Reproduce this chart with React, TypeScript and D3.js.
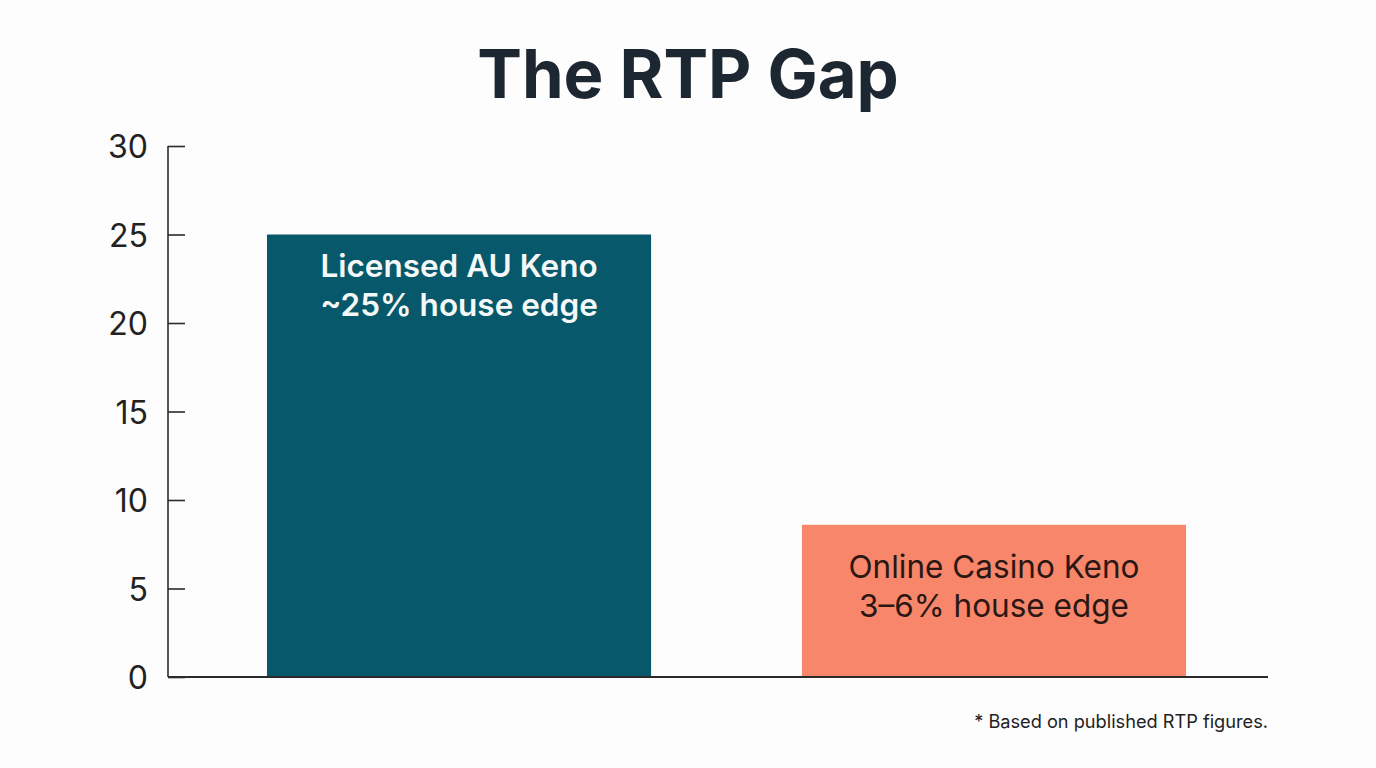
import { useEffect, useRef } from "react";
import * as d3 from "d3";

const categories = ["Licensed AU Keno", "Online Casino Keno"];
const houseEdge = [25, 8.6];
const barLabels = [
  ["Licensed AU Keno", "~25% house edge"],
  ["Online Casino Keno", "3–6% house edge"],
];
const yTicks = [0, 5, 10, 15, 20, 25, 30];

const W = 1376;
const H = 768;
const FONT = "Inter, 'Noto Sans', sans-serif";

export default function App() {
  const svgRef = useRef<SVGSVGElement>(null);

  useEffect(() => {
    if (!svgRef.current) return;
    const svg = d3.select(svgRef.current);
    svg.selectAll("*").remove();

    svg.append("rect").attr("width", W).attr("height", H).attr("fill", "#fdfdfd");

    // title
    svg
      .append("text")
      .attr("x", 688)
      .attr("y", 98)
      .attr("text-anchor", "middle")
      .attr("font-family", FONT)
      .attr("font-size", 67)
      .attr("font-weight", 700)
      .attr("fill", "#1d2731")
      .text("The RTP Gap");

    const left = 168;
    const axisRight = 1268;

    const x = d3
      .scaleBand()
      .domain(categories)
      .range([left, 1285])
      .paddingInner(0.282)
      .paddingOuter(0.185);

    const y = d3.scaleLinear().domain([0, 30]).range([677, 146]);

    const colors = ["#07586b", "#f7866a"];
    const textColors = ["#f4f8f8", "#2a1712"];
    const weights = [600, 400];
    const labelOffsets = [42, 53];

    categories.forEach((c, i) => {
      svg
        .append("rect")
        .attr("x", x(c)!)
        .attr("y", y(houseEdge[i]))
        .attr("width", x.bandwidth())
        .attr("height", y(0) - y(houseEdge[i]))
        .attr("fill", colors[i]);

      barLabels[i].forEach((line, j) => {
        svg
          .append("text")
          .attr("x", x(c)! + x.bandwidth() / 2)
          .attr("y", y(houseEdge[i]) + labelOffsets[i] + j * 39)
          .attr("text-anchor", "middle")
          .attr("font-family", FONT)
          .attr("font-size", 31.5)
          .attr("font-weight", weights[i])
          .attr("fill", textColors[i])
          .text(line);
      });
    });

    // y axis
    const yAxis = svg
      .append("g")
      .attr("transform", `translate(${left},0)`)
      .call(d3.axisLeft(y).tickValues(yTicks).tickSize(-17).tickPadding(20));
    yAxis.select(".domain").attr("stroke", "#2b2b2b").attr("stroke-width", 1.6).attr("d", `M0,${y(30)}V${y(0)}`);
    yAxis.selectAll(".tick line").attr("stroke", "#2b2b2b").attr("stroke-width", 1.6);
    yAxis
      .selectAll(".tick text")
      .attr("font-family", FONT)
      .attr("font-size", 32)
      .attr("fill", "#222")
      .attr("dy", "0.36em");

    // x axis baseline
    svg
      .append("line")
      .attr("x1", left)
      .attr("x2", axisRight)
      .attr("y1", y(0))
      .attr("y2", y(0))
      .attr("stroke", "#2b2b2b")
      .attr("stroke-width", 1.8);

    // footnote
    svg
      .append("text")
      .attr("x", axisRight)
      .attr("y", 728)
      .attr("text-anchor", "end")
      .attr("font-family", FONT)
      .attr("font-size", 18.2)
      .attr("fill", "#222")
      .text("* Based on published RTP figures.");
  }, []);

  return (
    <svg
      ref={svgRef}
      width={W}
      height={H}
      style={{ position: "absolute", left: 0, top: 0, display: "block" }}
    />
  );
}
